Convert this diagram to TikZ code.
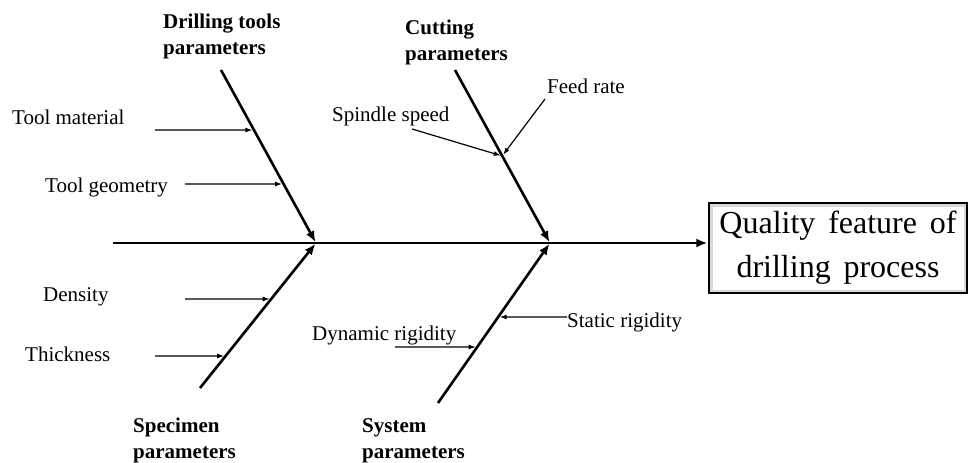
\documentclass[tikz,border=0pt]{standalone}
\usepackage{fontspec}
\setmainfont{Liberation Serif}
\usetikzlibrary{arrows.meta,calc}
\newcommand\widespace{\spaceskip=0.4em\relax}

\begin{document}
\begin{tikzpicture}[x=1pt, y=-1pt, font=\fontsize{21}{26}\selectfont,
  bone/.style={line width=2.6pt, shorten >=1pt, -{Latex[length=11pt,width=9pt]}},
  cause/.style={line width=1.2pt, shorten >=1.5pt, -{Latex[length=7pt,width=5pt]}},
  head/.style={font=\fontsize{21}{26}\selectfont\bfseries, align=left, inner sep=0pt, anchor=north west},
  lbl/.style={inner sep=0pt, anchor=base west}]
\useasboundingbox (0,0) rectangle (969,463);
% effect box and spine
\node[draw, line width=1.3pt, fill=white, minimum width=258pt, minimum height=90pt,
  inner sep=0pt, align=center, font=\fontsize{32}{44}\selectfont\widespace,
  path picture={\draw[gray!30, line width=7pt] (path picture bounding box.south west)
    rectangle (path picture bounding box.north east);}]
  (effect) at (838,248) {Quality feature of\\drilling process};
\coordinate (tail) at (113,243);
\draw[bone] (tail) -- (tail -| effect.west);
% bones
\coordinate (j1) at (316,243);
\coordinate (j2) at (550,243);
\coordinate (b1) at (221,70);
\coordinate (b2) at (455,70);
\coordinate (b3) at (200,388);
\coordinate (b4) at (438,403);
\foreach \b/\j in {b1/j1, b2/j2, b3/j1, b4/j2}
  \draw[bone] (\b) -- (\j);
% bone heads
\node[head] (tools) at (163,14) {Drilling tools\\parameters};
\node[head] (cutting) at (405,20) {Cutting\\parameters};
\node[head] (specimen) at (133,418) {Specimen\\parameters};
\node[head] (system) at (362,418) {System\\parameters};
% causes
\node[lbl] (material) at (12,124) {Tool material};
\node[lbl] (geometry) at (45,192) {Tool geometry};
\node[lbl] (spindle) at (332,121) {Spindle speed};
\node[lbl] (feed) at (547,93) {Feed rate};
\node[lbl] (density) at (43,301) {Density};
\node[lbl] (thick) at (25,361) {Thickness};
\node[lbl] (dynamic) at (312,340) {Dynamic rigidity};
\node[lbl] (static) at (567,327) {Static rigidity};
\coordinate (m0) at (155,130);
\coordinate (g0) at (185,184);
\coordinate (s0) at (412,129);
\coordinate (f0) at (545,99);
\coordinate (d0) at (185,299);
\coordinate (t0) at (155,356);
\coordinate (y0) at (395,347);
\coordinate (r0) at (567,317);
\coordinate (m1) at ($(b1)!0.347!(j1)$);
\coordinate (g1) at ($(b1)!0.659!(j1)$);
\coordinate (c1) at ($(b2)!0.497!(j2)$);
\coordinate (d1) at ($(b3)!0.614!(j1)$);
\coordinate (t1) at ($(b3)!0.221!(j1)$);
\coordinate (y1) at ($(b4)!0.35!(j2)$);
\coordinate (r1) at ($(b4)!0.5375!(j2)$);
\foreach \s/\e in {m0/m1, g0/g1, s0/c1, f0/c1, d0/d1, t0/t1, y0/y1, r0/r1}
  \draw[cause] (\s) -- (\e);
\end{tikzpicture}
\end{document}
